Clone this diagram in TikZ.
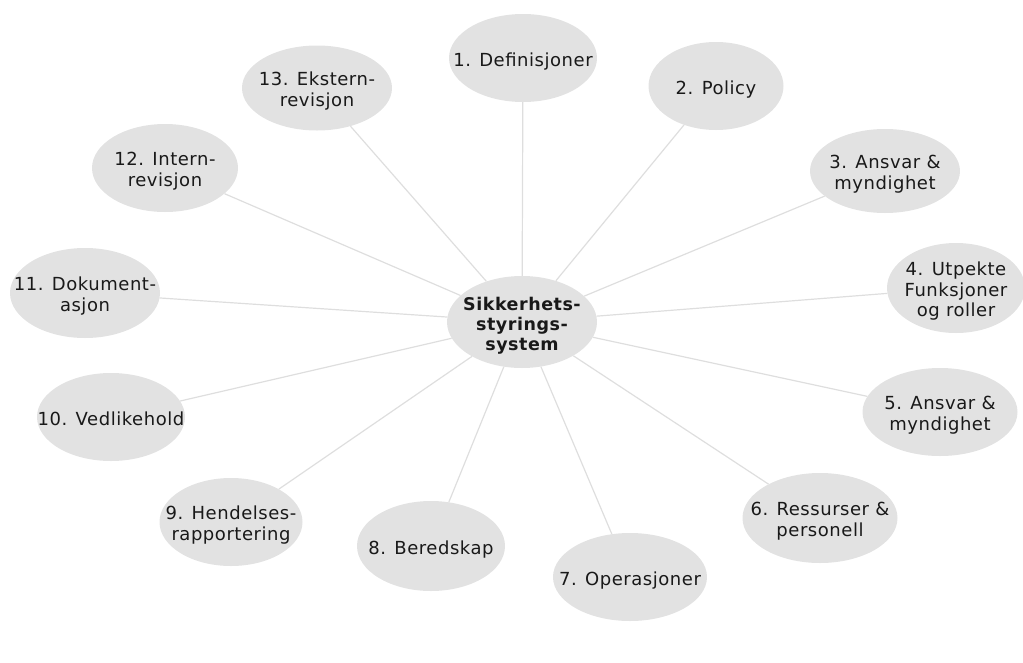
\documentclass[tikz,border=0pt]{standalone}
\usepackage{fontspec}
\setmainfont[LetterSpace=3]{DejaVu Sans}
\usetikzlibrary{shapes.geometric}
\definecolor{bubblefill}{RGB}{226,226,226}
\definecolor{spokeline}{RGB}{222,222,222}
\definecolor{ink}{RGB}{25,25,25}
% centred label of zero width, so the ellipse keeps its own size;
% the text sits a little below the middle of its bubble
\newcommand\bubbletext[1]{\makebox[0pt]{\raisebox{-4pt}[\height][\depth]{\begin{tabular}{@{}c@{}}#1\end{tabular}}}}
\begin{document}
\begin{tikzpicture}[x=1pt,y=-1pt,
  bubble/.style={ellipse, fill=bubblefill, minimum width=150pt, minimum height=88pt,
    inner sep=0pt, text=ink, font=\fontsize{18}{20.5}\selectfont},
  hub/.style={bubble, minimum height=92pt, font=\bfseries\fontsize{17.5}{20}\selectfont},
  spoke/.style={draw=spokeline, line width=1.2pt}]
\useasboundingbox (0,0) rectangle (1023,662);

% central management system
\node[hub] (c) at (522,322) {\bubbletext{Sikkerhets-\\styrings-\\system}};

% surrounding elements
\node[bubble, minimum width=148pt] (n1) at (523,58) {\bubbletext{1. Definisjoner}};
\node[bubble, minimum width=135pt] (n2) at (716,86) {\bubbletext{2. Policy}};
\node[bubble, minimum height=84pt] (n3) at (885,171) {\bubbletext{3. Ansvar \&\\myndighet}};
\node[bubble, minimum width=138pt, minimum height=90pt] (n4) at (956,288) {\bubbletext{4. Utpekte\\Funksjoner\\og roller}};
\node[bubble, minimum width=155pt] (n5) at (940,412) {\bubbletext{5. Ansvar \&\\myndighet}};
\node[bubble, minimum width=155pt, minimum height=90pt] (n6) at (820,518) {\bubbletext{6. Ressurser \&\\personell}};
\node[bubble, minimum width=154pt] (n7) at (630,577) {\bubbletext{7. Operasjoner}};
\node[bubble, minimum width=148pt, minimum height=90pt] (n8) at (431,546) {\bubbletext{8. Beredskap}};
\node[bubble, minimum width=143pt] (n9) at (231,522) {\bubbletext{9. Hendelses-\\rapportering}};
\node[bubble, minimum width=148pt] (n10) at (111,417) {\bubbletext{10. Vedlikehold}};
\node[bubble, minimum height=90pt] (n11) at (85,293) {\bubbletext{11. Dokument-\\asjon}};
\node[bubble, minimum width=146pt] (n12) at (165,168) {\bubbletext{12. Intern-\\revisjon}};
\node[bubble, minimum height=85pt] (n13) at (317,88) {\bubbletext{13. Ekstern-\\revisjon}};

% spokes from the hub to every element
\foreach \n in {n1,n2,n3,n4,n5,n6,n7,n8,n9,n10,n11,n12,n13}
  \draw[spoke] (c) -- (\n);
\end{tikzpicture}
\end{document}
